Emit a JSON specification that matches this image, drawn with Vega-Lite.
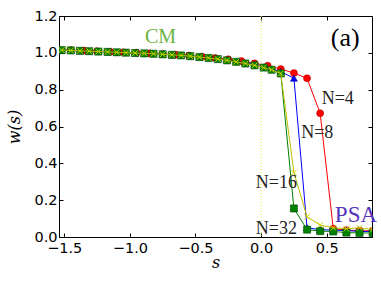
{
  "$schema": "https://vega.github.io/schema/vega-lite/v6.json",
  "width": 313,
  "height": 221,
  "autosize": "none",
  "padding": {"left": 59, "top": 16, "right": 9, "bottom": 49},
  "config": {
    "view": {"stroke": "black", "strokeWidth": 1},
    "axis": {"grid": false, "domain": false, "tickColor": "black", "tickSize": -4, "labelColor": "black", "labelFont": "DejaVu Sans", "labelFontSize": 14.5, "titleColor": "black", "titleFont": "DejaVu Serif", "titleFontStyle": "italic", "titleFontWeight": "normal", "titleFontSize": 16}
  },
  "datasets": {
    "pts": [
      {"series": "N4", "s": -1.55, "w": 1.017}, {"series": "N4", "s": -1.45, "w": 1.015}, {"series": "N4", "s": -1.35, "w": 1.012}, {"series": "N4", "s": -1.25, "w": 1.009}, {"series": "N4", "s": -1.15, "w": 1.006}, {"series": "N4", "s": -1.05, "w": 1.003}, {"series": "N4", "s": -0.95, "w": 1.0}, {"series": "N4", "s": -0.85, "w": 0.997}, {"series": "N4", "s": -0.75, "w": 0.994}, {"series": "N4", "s": -0.65, "w": 0.99}, {"series": "N4", "s": -0.55, "w": 0.985}, {"series": "N4", "s": -0.45, "w": 0.979}, {"series": "N4", "s": -0.35, "w": 0.972}, {"series": "N4", "s": -0.25, "w": 0.965}, {"series": "N4", "s": -0.15, "w": 0.955}, {"series": "N4", "s": -0.05, "w": 0.943}, {"series": "N4", "s": 0.05, "w": 0.93}, {"series": "N4", "s": 0.15, "w": 0.912}, {"series": "N4", "s": 0.25, "w": 0.89}, {"series": "N4", "s": 0.35, "w": 0.862}, {"series": "N4", "s": 0.45, "w": 0.672}, {"series": "N4", "s": 0.55, "w": 0.045}, {"series": "N4", "s": 0.65, "w": 0.037}, {"series": "N4", "s": 0.75, "w": 0.035}, {"series": "N4", "s": 0.85, "w": 0.032},

      {"series": "N8", "s": -1.52, "w": 1.015}, {"series": "N8", "s": -1.45, "w": 1.013}, {"series": "N8", "s": -1.38, "w": 1.011}, {"series": "N8", "s": -1.31, "w": 1.009}, {"series": "N8", "s": -1.24, "w": 1.007}, {"series": "N8", "s": -1.17, "w": 1.005}, {"series": "N8", "s": -1.10, "w": 1.003}, {"series": "N8", "s": -1.03, "w": 1.001}, {"series": "N8", "s": -0.96, "w": 0.999}, {"series": "N8", "s": -0.89, "w": 0.997}, {"series": "N8", "s": -0.82, "w": 0.995}, {"series": "N8", "s": -0.75, "w": 0.992}, {"series": "N8", "s": -0.68, "w": 0.989}, {"series": "N8", "s": -0.61, "w": 0.986}, {"series": "N8", "s": -0.54, "w": 0.982}, {"series": "N8", "s": -0.47, "w": 0.978}, {"series": "N8", "s": -0.40, "w": 0.973}, {"series": "N8", "s": -0.33, "w": 0.967}, {"series": "N8", "s": -0.26, "w": 0.961}, {"series": "N8", "s": -0.19, "w": 0.953}, {"series": "N8", "s": -0.12, "w": 0.945}, {"series": "N8", "s": -0.05, "w": 0.935}, {"series": "N8", "s": 0.02, "w": 0.923}, {"series": "N8", "s": 0.08, "w": 0.912}, {"series": "N8", "s": 0.15, "w": 0.898}, {"series": "N8", "s": 0.25, "w": 0.862}, {"series": "N8", "s": 0.35, "w": 0.05}, {"series": "N8", "s": 0.45, "w": 0.04}, {"series": "N8", "s": 0.55, "w": 0.037}, {"series": "N8", "s": 0.65, "w": 0.035}, {"series": "N8", "s": 0.75, "w": 0.03}, {"series": "N8", "s": 0.85, "w": 0.03},

      {"series": "N32", "s": -1.52, "w": 1.015}, {"series": "N32", "s": -1.45, "w": 1.013}, {"series": "N32", "s": -1.38, "w": 1.011}, {"series": "N32", "s": -1.31, "w": 1.009}, {"series": "N32", "s": -1.24, "w": 1.007}, {"series": "N32", "s": -1.17, "w": 1.005}, {"series": "N32", "s": -1.10, "w": 1.003}, {"series": "N32", "s": -1.03, "w": 1.001}, {"series": "N32", "s": -0.96, "w": 0.999}, {"series": "N32", "s": -0.89, "w": 0.997}, {"series": "N32", "s": -0.82, "w": 0.995}, {"series": "N32", "s": -0.75, "w": 0.992}, {"series": "N32", "s": -0.68, "w": 0.989}, {"series": "N32", "s": -0.61, "w": 0.986}, {"series": "N32", "s": -0.54, "w": 0.982}, {"series": "N32", "s": -0.47, "w": 0.977}, {"series": "N32", "s": -0.40, "w": 0.972}, {"series": "N32", "s": -0.33, "w": 0.966}, {"series": "N32", "s": -0.26, "w": 0.959}, {"series": "N32", "s": -0.19, "w": 0.951}, {"series": "N32", "s": -0.12, "w": 0.942}, {"series": "N32", "s": -0.05, "w": 0.932}, {"series": "N32", "s": 0.02, "w": 0.92}, {"series": "N32", "s": 0.08, "w": 0.908}, {"series": "N32", "s": 0.15, "w": 0.888}, {"series": "N32", "s": 0.25, "w": 0.155}, {"series": "N32", "s": 0.35, "w": 0.04}, {"series": "N32", "s": 0.45, "w": 0.032}, {"series": "N32", "s": 0.55, "w": 0.03}, {"series": "N32", "s": 0.65, "w": 0.024}, {"series": "N32", "s": 0.75, "w": 0.022}, {"series": "N32", "s": 0.85, "w": 0.022},

      {"series": "N16", "s": -1.52, "w": 1.015}, {"series": "N16", "s": -1.45, "w": 1.013}, {"series": "N16", "s": -1.38, "w": 1.011}, {"series": "N16", "s": -1.31, "w": 1.009}, {"series": "N16", "s": -1.24, "w": 1.007}, {"series": "N16", "s": -1.17, "w": 1.005}, {"series": "N16", "s": -1.10, "w": 1.003}, {"series": "N16", "s": -1.03, "w": 1.001}, {"series": "N16", "s": -0.96, "w": 0.999}, {"series": "N16", "s": -0.89, "w": 0.997}, {"series": "N16", "s": -0.82, "w": 0.995}, {"series": "N16", "s": -0.75, "w": 0.992}, {"series": "N16", "s": -0.68, "w": 0.989}, {"series": "N16", "s": -0.61, "w": 0.986}, {"series": "N16", "s": -0.54, "w": 0.982}, {"series": "N16", "s": -0.47, "w": 0.977}, {"series": "N16", "s": -0.40, "w": 0.972}, {"series": "N16", "s": -0.33, "w": 0.966}, {"series": "N16", "s": -0.26, "w": 0.959}, {"series": "N16", "s": -0.19, "w": 0.951}, {"series": "N16", "s": -0.12, "w": 0.942}, {"series": "N16", "s": -0.05, "w": 0.932}, {"series": "N16", "s": 0.02, "w": 0.92}, {"series": "N16", "s": 0.08, "w": 0.908}, {"series": "N16", "s": 0.15, "w": 0.888}, {"series": "N16", "s": 0.25, "w": 0.35}, {"series": "N16", "s": 0.35, "w": 0.11}, {"series": "N16", "s": 0.45, "w": 0.065}, {"series": "N16", "s": 0.55, "w": 0.05}, {"series": "N16", "s": 0.65, "w": 0.045}, {"series": "N16", "s": 0.75, "w": 0.05}, {"series": "N16", "s": 0.85, "w": 0.04}
    ]
  },
  "resolve": {"axis": {"x": "independent", "y": "independent"}},
  "layer": [
    {
      "data": {"values": [{"s0": 0}]},
      "mark": {"type": "rule", "color": "#dede30", "strokeDash": [1, 2], "strokeWidth": 1},
      "encoding": {
        "x": {"field": "s0", "type": "quantitative", "scale": {"domain": [-1.54, 0.845], "nice": false, "zero": false},
          "axis": {"orient": "bottom", "values": [-1.5, -1.0, -0.5, 0.0, 0.5], "format": ".1f", "labelPadding": 8, "title": "s", "titlePadding": 0, "labelFlush": false}}
      }
    },
    {
      "data": {"values": [{"s0": 0, "w0": 0}]},
      "mark": {"type": "point", "opacity": 0},
      "encoding": {
        "x": {"field": "s0", "type": "quantitative", "axis": {"orient": "top", "values": [-1.5, -1.0, -0.5, 0.0, 0.5], "labels": false, "title": null}},
        "y": {"field": "w0", "type": "quantitative", "axis": {"orient": "right", "values": [0, 0.2, 0.4, 0.6, 0.8, 1.0, 1.2], "labels": false, "title": null}}
      }
    },
    {
      "data": {"name": "pts"},
      "transform": [{"filter": "datum.series == 'N4'"}],
      "mark": {"type": "line", "color": "red", "strokeWidth": 1, "clip": true},
      "encoding": {
        "x": {"field": "s", "type": "quantitative", "axis": null},
        "y": {"field": "w", "type": "quantitative", "scale": {"domain": [0, 1.2], "nice": false},
          "axis": {"orient": "left", "values": [0, 0.2, 0.4, 0.6, 0.8, 1.0, 1.2], "format": ".1f", "labelPadding": 6, "title": "w(s)", "titlePadding": 11}}
      }
    },
    {
      "data": {"name": "pts"},
      "transform": [{"filter": "datum.series == 'N4'"}],
      "mark": {"type": "point", "shape": "circle", "filled": true, "color": "red", "stroke": "#aa0000", "strokeWidth": 0.5, "opacity": 1, "size": 50, "clip": true},
      "encoding": {
        "x": {"field": "s", "type": "quantitative", "axis": null},
        "y": {"field": "w", "type": "quantitative", "axis": null}
      }
    },
    {
      "data": {"name": "pts"},
      "transform": [{"filter": "datum.series == 'N8'"}],
      "mark": {"type": "line", "color": "blue", "strokeWidth": 1, "clip": true},
      "encoding": {
        "x": {"field": "s", "type": "quantitative", "axis": null},
        "y": {"field": "w", "type": "quantitative", "axis": null}
      }
    },
    {
      "data": {"name": "pts"},
      "transform": [{"filter": "datum.series == 'N8'"}],
      "mark": {"type": "point", "shape": "triangle-up", "filled": true, "color": "blue", "stroke": "#000080", "strokeWidth": 0.5, "opacity": 1, "size": 50, "clip": true},
      "encoding": {
        "x": {"field": "s", "type": "quantitative", "axis": null},
        "y": {"field": "w", "type": "quantitative", "axis": null}
      }
    },
    {
      "data": {"name": "pts"},
      "transform": [{"filter": "datum.series == 'N32'"}],
      "mark": {"type": "line", "color": "green", "strokeWidth": 1, "clip": true},
      "encoding": {
        "x": {"field": "s", "type": "quantitative", "axis": null},
        "y": {"field": "w", "type": "quantitative", "axis": null}
      }
    },
    {
      "data": {"name": "pts"},
      "transform": [{"filter": "datum.series == 'N32'"}],
      "mark": {"type": "point", "shape": "square", "filled": true, "color": "green", "stroke": "#004000", "strokeWidth": 0.5, "opacity": 1, "size": 52, "clip": true},
      "encoding": {
        "x": {"field": "s", "type": "quantitative", "axis": null},
        "y": {"field": "w", "type": "quantitative", "axis": null}
      }
    },
    {
      "data": {"name": "pts"},
      "transform": [{"filter": "datum.series == 'N16'"}],
      "mark": {"type": "line", "color": "#bfbf00", "strokeWidth": 1, "clip": true},
      "encoding": {
        "x": {"field": "s", "type": "quantitative", "axis": null},
        "y": {"field": "w", "type": "quantitative", "axis": null}
      }
    },
    {
      "data": {"name": "pts"},
      "transform": [{"filter": "datum.series == 'N16'"}],
      "mark": {"type": "point", "shape": "M-1,-1L1,1M-1,1L1,-1", "filled": false, "color": "#d0d000", "strokeWidth": 1, "opacity": 1, "size": 32, "clip": true},
      "encoding": {
        "x": {"field": "s", "type": "quantitative", "axis": null},
        "y": {"field": "w", "type": "quantitative", "axis": null}
      }
    },
    {
      "data": {"values": [{"label": "N=4", "s": 0.584, "w": 0.751}, {"label": "N=8", "s": 0.428, "w": 0.566}, {"label": "N=16", "s": 0.116, "w": 0.292}, {"label": "N=32", "s": 0.116, "w": 0.042}]},
      "mark": {"type": "text", "font": "Liberation Serif", "fontSize": 18, "color": "#222222", "align": "center", "baseline": "middle"},
      "encoding": {
        "x": {"field": "s", "type": "quantitative", "axis": null},
        "y": {"field": "w", "type": "quantitative", "axis": null},
        "text": {"field": "label"}
      }
    },
    {
      "data": {"values": [{"label": "CM", "s": -0.766, "w": 1.084}]},
      "mark": {"type": "text", "font": "Liberation Serif", "fontSize": 20, "color": "#6db33f", "align": "center", "baseline": "middle"},
      "encoding": {
        "x": {"field": "s", "type": "quantitative", "axis": null},
        "y": {"field": "w", "type": "quantitative", "axis": null},
        "text": {"field": "label"}
      }
    },
    {
      "data": {"values": [{"label": "PSA", "s": 0.562, "w": 0.121}]},
      "mark": {"type": "text", "font": "Liberation Serif", "fontSize": 23, "color": "#5533bb", "align": "left", "baseline": "middle"},
      "encoding": {
        "x": {"field": "s", "type": "quantitative", "axis": null},
        "y": {"field": "w", "type": "quantitative", "axis": null},
        "text": {"field": "label"}
      }
    },
    {
      "data": {"values": [{"label": "(a)", "s": 0.641, "w": 1.078}]},
      "mark": {"type": "text", "font": "Liberation Serif", "fontSize": 26, "color": "black", "align": "center", "baseline": "middle"},
      "encoding": {
        "x": {"field": "s", "type": "quantitative", "axis": null},
        "y": {"field": "w", "type": "quantitative", "axis": null},
        "text": {"field": "label"}
      }
    }
  ]
}
